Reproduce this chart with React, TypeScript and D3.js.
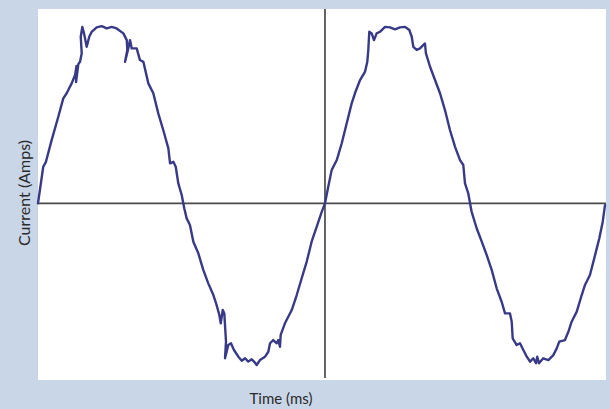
import React, { useEffect, useRef } from 'react';
import * as d3 from 'd3';

// time (ms) and current (A)
const timeMs = [
  0, 0.37, 0.56, 0.96, 1.43, 1.78, 2.02, 2.37, 2.61, 2.71, 2.68, 2.84, 2.96, 3.08, 3.01, 3.12,
  3.24, 3.43, 3.61, 3.78, 4.13, 4.49, 4.84, 5.19, 5.54, 6.01, 6.25, 6.29, 6.13, 6.36, 6.48, 6.6,
  6.95, 7.18, 7.42, 7.77, 8.12, 8.47, 8.82, 9.18, 9.3, 9.53, 9.7, 9.88, 10.12, 10.3,
  10.47, 10.7, 10.94, 11.29, 11.64, 11.99, 12.35, 12.58, 12.77, 12.87, 13.01, 13.12, 13.24, 13.17,
  13.4, 13.59, 13.8, 14.11, 14.35, 14.58, 14.81, 15.05, 15.28, 15.4, 15.63, 15.99, 16.22, 16.34,
  16.57, 16.81, 16.92, 17.04, 17.09, 17.39, 17.87, 18.22, 18.57, 18.92, 19.27, 19.63, 19.98, 20.21,
  20.44, 20.68, 21.04, 21.39, 21.74, 22.09, 22.32, 22.68, 23.03, 23.19, 23.26, 23.33, 23.5, 23.66,
  23.85, 24.08, 24.44, 24.79, 25.14, 25.49, 25.85, 26.15, 26.32, 26.43, 26.67, 26.9, 27.13, 27.25,
  27.32, 27.61, 27.96, 28.31, 28.66, 29.01, 29.37, 29.72, 29.95, 30.07, 30.3, 30.47,
  30.54, 30.89, 31.25, 31.6, 31.95, 32.3, 32.65, 32.89, 33.24, 33.36, 33.43, 33.71, 33.94, 34.18,
  34.42, 34.65, 34.88, 35.07, 35.16, 35.28, 35.58, 35.94, 36.29, 36.53, 36.71, 37.11, 37.35, 37.58,
  37.94, 38.29, 38.52, 38.87, 39.23, 39.53, 39.77, 39.93,
];

const currentA = [
  0, 2.07, 2.35, 3.58, 4.9, 5.94, 6.23, 6.79, 7.26, 7.77, 6.86, 7.88, 8.01, 8.49, 9.43, 9.99,
  9.62, 8.86, 9.43, 9.71, 9.96, 10.03, 9.9, 9.99, 9.9, 9.62, 9.24, 8.68, 8.01, 8.77, 9.24, 8.77,
  8.77, 8.11, 8.01, 6.79, 6.23, 5.09, 4.15, 3.11, 2.26, 2.35, 2.07, 1.13, 0.47, -0.28,
  -0.85, -1.23, -2.17, -2.83, -3.77, -4.53, -5.19, -5.76, -6.32, -6.79, -6.04, -6.23, -7.83, -8.77,
  -8.02, -7.92, -8.3, -8.68, -8.91, -8.77, -8.96, -8.83, -9.02, -9.15, -8.87, -8.68, -8.4, -7.92,
  -7.74, -7.92, -7.74, -8.12, -7.45, -6.79, -6.04, -5.19, -4.24, -3.31, -2.17, -1.32, -0.48, 0,
  0.94, 1.88, 2.45, 3.4, 4.53, 5.66, 6.23, 6.98, 7.45, 8.01, 8.68, 9.71, 9.62, 9.24,
  9.62, 9.71, 9.99, 9.96, 9.85, 9.96, 9.99, 9.81, 9.43, 8.86, 8.68, 8.77, 8.96, 9.05,
  8.49, 7.73, 6.98, 6.23, 5.28, 4.15, 3.2, 2.45, 2.17, 1.13, 0.57, -0.19,
  -0.48, -1.41, -2.17, -2.93, -3.77, -4.81, -5.57, -6.23, -6.23, -6.7, -7.64, -8.02, -7.92, -8.3,
  -8.68, -8.96, -8.77, -9.05, -8.68, -9.05, -8.77, -8.87, -8.59, -8.21, -7.83, -7.74, -7.27, -6.7,
  -6.13, -5.19, -4.62, -4.06, -2.93, -1.98, -1.04, -0.1,
];

const timeDomain = [0, 40];
const currentDomain = [-10, 11];
const axisCrossTime = 20.21;
const xLabel = 'Time (ms)';
const yLabel = 'Current (Amps)';

const App = () => {
  const ref = useRef<SVGSVGElement>(null);

  useEffect(() => {
    const svg = d3.select(ref.current);
    svg.selectAll('*').remove();

    const W = 610;
    const H = 409;
    const plot = { left: 38, right: 606, top: 9, bottom: 380 };

    svg.append('rect').attr('width', W).attr('height', H).attr('fill', '#c9d6e8');
    svg.append('rect')
      .attr('x', plot.left)
      .attr('y', plot.top)
      .attr('width', plot.right - plot.left)
      .attr('height', plot.bottom - plot.top)
      .attr('fill', '#ffffff');

    const x = d3.scaleLinear().domain(timeDomain).range([plot.left, plot.right]);
    const y = d3.scaleLinear().domain(currentDomain).range([plot.bottom, plot.top]);

    // axes cross at zero current and one period in
    svg.append('line')
      .attr('x1', plot.left).attr('x2', plot.right)
      .attr('y1', y(0)).attr('y2', y(0))
      .attr('stroke', '#4a4a4a').attr('stroke-width', 1.7);
    svg.append('line')
      .attr('x1', x(axisCrossTime)).attr('x2', x(axisCrossTime))
      .attr('y1', plot.top).attr('y2', plot.bottom - 2)
      .attr('stroke', '#4a4a4a').attr('stroke-width', 1.7);

    const pts = timeMs.map((t, i) => [t, currentA[i]] as [number, number]);
    const line = d3.line<[number, number]>()
      .x(d => x(d[0]))
      .y(d => y(d[1]));

    svg.append('path')
      .datum(pts)
      .attr('d', line)
      .attr('fill', 'none')
      .attr('stroke', '#383a88')
      .attr('stroke-width', 2.4)
      .attr('stroke-linejoin', 'round')
      .attr('stroke-linecap', 'round');

    svg.append('text')
      .attr('x', 281)
      .attr('y', 404)
      .attr('text-anchor', 'middle')
      .attr('font-family', 'Lato, sans-serif')
      .attr('font-size', 15)
      .attr('fill', '#2a2a2a')
      .text(xLabel);

    svg.append('text')
      .attr('transform', 'translate(30,193) rotate(-90)')
      .attr('text-anchor', 'middle')
      .attr('font-family', 'Lato, sans-serif')
      .attr('font-size', 16)
      .attr('fill', '#2a2a2a')
      .text(yLabel);
  }, []);

  return (
    <svg ref={ref} width={610} height={409} style={{ position: 'absolute', left: 0, top: 0 }}></svg>
  );
};

export default App;
